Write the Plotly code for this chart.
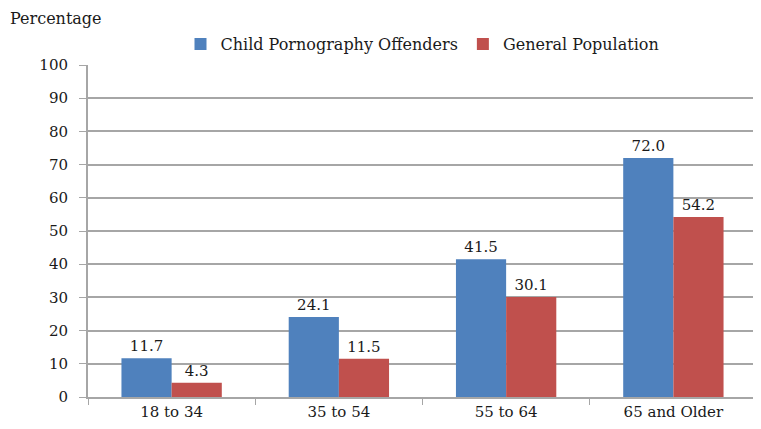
import plotly.graph_objects as go

# ── Data ───────────────────────────────────────────────────────────────────────
age_groups = ["18 to 34", "35 to 54", "55 to 64", "65 and Older"]
cp_offenders = [11.7, 24.1, 41.5, 72.0]
general_pop = [4.3, 11.5, 30.1, 54.2]

# ── Design tokens ──────────────────────────────────────────────────────────────
BLUE = "#4F81BD"
RED = "#C0504D"
GRID_CLR = "#A6A6A6"
TEXT_CLR = "#1a1a1a"
FONT = "DejaVu Serif"

fig = go.Figure()
fig.add_trace(go.Bar(
    x=age_groups, y=cp_offenders, name="Child Pornography Offenders",
    marker=dict(color=BLUE, line=dict(width=0)),
    text=[f"{v:.1f}" for v in cp_offenders], textposition="outside",
    textfont=dict(size=15, color=TEXT_CLR, family=FONT), cliponaxis=False,
))
fig.add_trace(go.Bar(
    x=age_groups, y=general_pop, name="General Population",
    marker=dict(color=RED, line=dict(width=0)),
    text=[f"{v:.1f}" for v in general_pop], textposition="outside",
    textfont=dict(size=15, color=TEXT_CLR, family=FONT), cliponaxis=False,
))

fig.update_layout(
    width=753, height=421,
    paper_bgcolor="white", plot_bgcolor="white",
    font=dict(family=FONT, color=TEXT_CLR, size=15),
    margin=dict(l=80, r=4, t=57, b=32),
    barmode="group", bargap=0.4, bargroupgap=0,
    showlegend=True,
    legend=dict(
        orientation="h", x=0.5, xanchor="center", y=1.063, yanchor="middle",
        font=dict(size=16, family=FONT), itemwidth=30, traceorder="normal",
        bgcolor="rgba(0,0,0,0)",
    ),
    xaxis=dict(
        showline=True, linecolor=GRID_CLR, linewidth=2,
        ticks="outside", tickson="boundaries", ticklen=6, tickcolor=GRID_CLR,
        tickfont=dict(size=15, family=FONT), showgrid=False,
    ),
    yaxis=dict(
        range=[0, 100], dtick=10, showline=True, linecolor=GRID_CLR, linewidth=2,
        ticks="outside", ticklen=7, tickcolor=GRID_CLR, ticklabelstandoff=8,
        gridcolor=GRID_CLR, gridwidth=1.5, zeroline=False,
        tickfont=dict(size=15, family=FONT),
    ),
    annotations=[dict(
        text="Percentage", xref="paper", yref="paper",
        x=-0.12, y=1.14, xanchor="left", yanchor="middle",
        showarrow=False, font=dict(size=16, family=FONT),
    )],
)

fig.write_html("out.html")
